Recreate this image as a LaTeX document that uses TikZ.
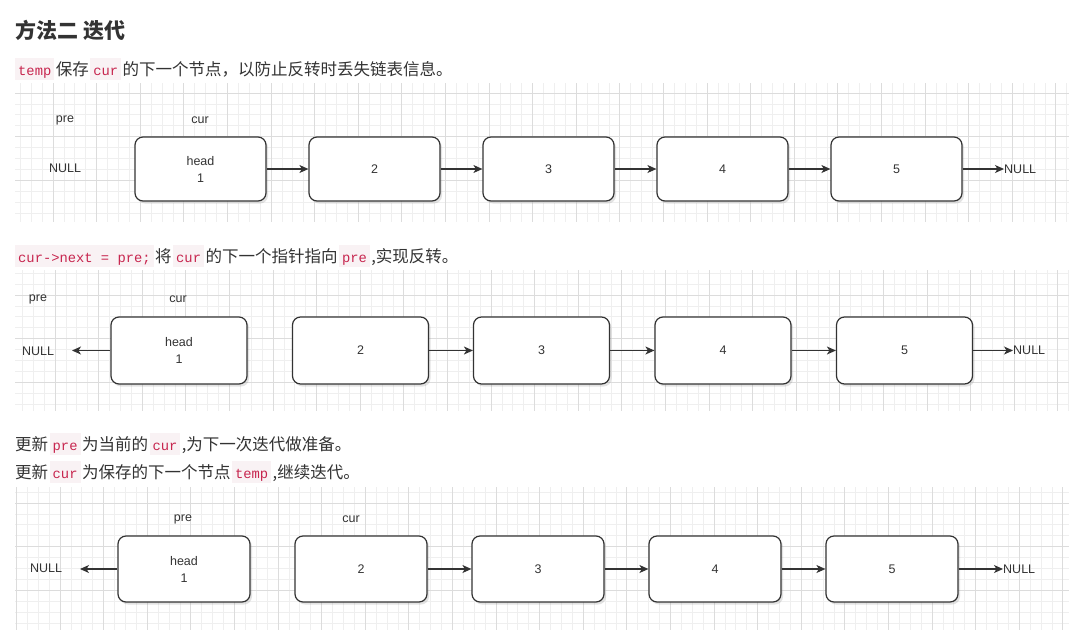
\documentclass[tikz,border=0pt]{standalone}
\usepackage{fontspec}
\usepackage{xcolor}
\usetikzlibrary{arrows.meta,shadows}
\newfontfamily\cjk{Noto Sans CJK SC}
\newfontfamily\lab{Liberation Sans}
\newfontfamily\codefont{Liberation Mono}
\definecolor{txt}{HTML}{333333}
\definecolor{codefg}{HTML}{C7254E}
\definecolor{codebg}{HTML}{F9F2F4}
\definecolor{gminor}{HTML}{EFEFEF}
\definecolor{gmajor}{HTML}{DCDCDC}
\definecolor{lnk}{HTML}{333333}
\newcommand\cd[1]{{\setlength{\fboxsep}{0pt}\colorbox{codebg}{\rule[-5pt]{0pt}{22.5pt}\hspace{3pt}{\codefont\fontsize{13.8}{16}\selectfont\textcolor{codefg}{#1}}\hspace{3pt}}\hspace{1.5pt}}}
\newcommand\panelgrid[6]{%
  \begin{scope}
    \clip (#1,#2) rectangle (#3,#4);
    \foreach \k in {-8,...,100} {
      \draw[gminor, line width=0.8pt] ({#5+\k*10.9},#2) -- ({#5+\k*10.9},#4);
    }
    \foreach \k in {-8,...,20} {
      \draw[gminor, line width=0.8pt] (#1,{#6+\k*10.9}) -- (#3,{#6+\k*10.9});
    }
    \foreach \k in {-2,...,25} {
      \draw[gmajor, line width=0.9pt] ({#5+\k*43.6},#2) -- ({#5+\k*43.6},#4);
    }
    \foreach \k in {-2,...,5} {
      \draw[gmajor, line width=0.9pt] (#1,{#6+\k*43.6}) -- (#3,{#6+\k*43.6});
    }
  \end{scope}}
\begin{document}
\begin{tikzpicture}[x=1pt,y=-1pt,
  line/.style={anchor=west, inner sep=0pt, text=txt, font=\cjk\fontsize{16.5}{20}\selectfont},
  lnode/.style={draw=lnk, line width=1.2pt, fill=white, rounded corners=8pt,
    align=center, text=txt, font=\lab\fontsize{12.5}{17}\selectfont,
    drop shadow={shadow xshift=2pt, shadow yshift=-2.5pt, opacity=.22, fill=black!50}},
  ptr/.style={text=txt, font=\lab\fontsize{12.5}{15}\selectfont, inner sep=0pt},
  conn/.style={draw=lnk, line width=1.2pt, -{Stealth[length=9pt,width=8pt,inset=2.5pt]}}]
\useasboundingbox[fill=white] (0,0) rectangle (1069,630);

% ---------- texts ----------
\node[line, font=\cjk\bfseries\fontsize{21}{24}\selectfont] (title) at (15,30) {方法二 迭代};
\node[line] (t1) at (15,69) {\cd{temp}保存\hspace{1.5pt}\cd{cur}的下一个节点，以防止反转时丢失链表信息。};
\node[line] (t2) at (15,256) {\cd{cur->next = pre;}将\hspace{1.5pt}\cd{cur}的下一个指针指向\hspace{1.5pt}\cd{pre},实现反转。};
\node[line] (t3) at (15,444) {更新\hspace{1.5pt}\cd{pre}为当前的\hspace{1.5pt}\cd{cur},为下一次迭代做准备。};
\node[line] (t4) at (15,472) {更新\hspace{1.5pt}\cd{cur}为保存的下一个节点\hspace{1.5pt}\cd{temp},继续迭代。};

% ---------- grids ----------
\panelgrid{15}{83}{1069}{222}{53}{93}
\panelgrid{15}{270}{1069}{411}{55}{295}
\panelgrid{15}{487}{1069}{630}{60}{503}

% ---------- panel 1 ----------
\node[lnode, minimum width=131pt, minimum height=64pt] (a1) at (200.5,169) {head\\1};
\node[lnode, minimum width=131pt, minimum height=64pt] (a2) at (374.5,169) {2};
\node[lnode, minimum width=131pt, minimum height=64pt] (a3) at (548.5,169) {3};
\node[lnode, minimum width=131pt, minimum height=64pt] (a4) at (722.5,169) {4};
\node[lnode, minimum width=131pt, minimum height=64pt] (a5) at (896.5,169) {5};
\node[ptr] (apre) at (65,120) {pre};
\node[ptr] (acur) at (200,120) {cur};
\node[ptr] (anl) at (65,168) {NULL};
\node[ptr, anchor=west] (anr) at (1004,169) {NULL};
\draw[conn] (a1) -- (a2);
\draw[conn] (a2) -- (a3);
\draw[conn] (a3) -- (a4);
\draw[conn] (a4) -- (a5);
\draw[conn] (a5) -- (anr);

% ---------- panel 2 ----------
\node[lnode, minimum width=136pt, minimum height=67pt] (b1) at (179,350.5) {head\\1};
\node[lnode, minimum width=136pt, minimum height=67pt] (b2) at (360.5,350.5) {2};
\node[lnode, minimum width=136pt, minimum height=67pt] (b3) at (541.5,350.5) {3};
\node[lnode, minimum width=136pt, minimum height=67pt] (b4) at (723,350.5) {4};
\node[lnode, minimum width=136pt, minimum height=67pt] (b5) at (904.5,350.5) {5};
\node[ptr] (bpre) at (38,299) {pre};
\node[ptr] (bcur) at (178,299) {cur};
\node[ptr] (bnl) at (38,351) {NULL};
\coordinate (bnt) at (72,350.5);
\node[ptr, anchor=west] (bnr) at (1013,350.5) {NULL};
\draw[conn] (b1) -- (bnt);
\draw[conn] (b2) -- (b3);
\draw[conn] (b3) -- (b4);
\draw[conn] (b4) -- (b5);
\draw[conn] (b5) -- (bnr);

% ---------- panel 3 ----------
\node[lnode, minimum width=132pt, minimum height=66pt] (c1) at (184,569) {head\\1};
\node[lnode, minimum width=132pt, minimum height=66pt] (c2) at (361,569) {2};
\node[lnode, minimum width=132pt, minimum height=66pt] (c3) at (538,569) {3};
\node[lnode, minimum width=132pt, minimum height=66pt] (c4) at (715,569) {4};
\node[lnode, minimum width=132pt, minimum height=66pt] (c5) at (892,569) {5};
\node[ptr] (cpre) at (183,519) {pre};
\node[ptr] (ccur) at (351,519) {cur};
\node[ptr] (cnl) at (46,568) {NULL};
\coordinate (cnt) at (80,569);
\node[ptr, anchor=west] (cnr) at (1003,569) {NULL};
\draw[conn] (c1) -- (cnt);
\draw[conn] (c2) -- (c3);
\draw[conn] (c3) -- (c4);
\draw[conn] (c4) -- (c5);
\draw[conn] (c5) -- (cnr);
\end{tikzpicture}
\end{document}
